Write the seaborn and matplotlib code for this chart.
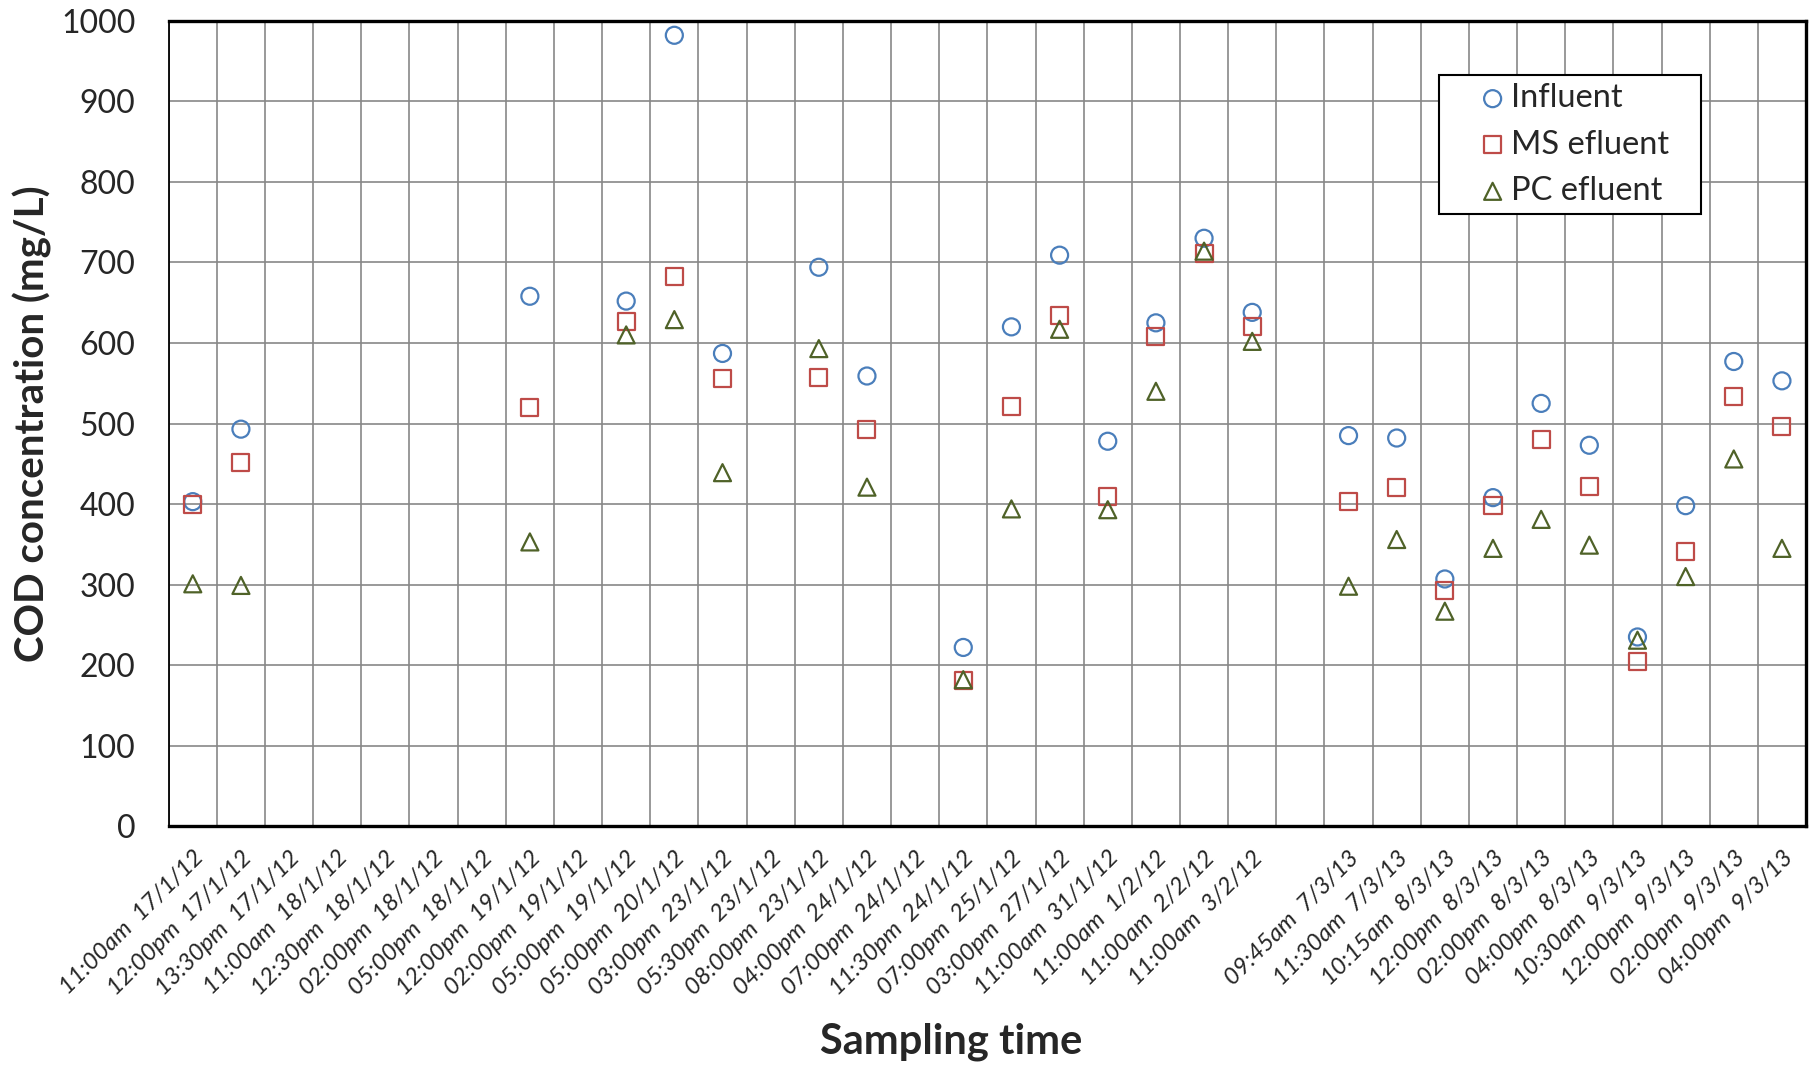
import numpy as np
import pandas as pd
import matplotlib
matplotlib.use("Agg")
import matplotlib.pyplot as plt
import seaborn as sns

nan = np.nan
labels = ["11:00am  17/1/12", "12:00pm  17/1/12", "13:30pm  17/1/12", "11:00am  18/1/12",
          "12:30pm  18/1/12", "02:00pm  18/1/12", "05:00pm  18/1/12", "12:00pm  19/1/12",
          "02:00pm  19/1/12", "05:00pm  19/1/12", "05:00pm  20/1/12", "03:00pm  23/1/12",
          "05:30pm  23/1/12", "08:00pm  23/1/12", "04:00pm  24/1/12", "07:00pm  24/1/12",
          "11:30pm  24/1/12", "07:00pm  25/1/12", "03:00pm  27/1/12", "11:00am  31/1/12",
          "11:00am  1/2/12", "11:00am  2/2/12", "11:00am  3/2/12", "",
          "09:45am  7/3/13", "11:30am  7/3/13", "10:15am  8/3/13", "12:00pm  8/3/13",
          "02:00pm  8/3/13", "04:00pm  8/3/13", "10:30am  9/3/13", "12:00pm  9/3/13",
          "02:00pm  9/3/13", "04:00pm  9/3/13"]

influent = [403, 493, nan, nan, nan, nan, nan, 658, nan, 652, 982, 587, nan, 694, 559, nan,
            222, 620, 709, 478, 625, 730, 638, nan, 485, 482, 307, 408, 525, 473, 235, 398, 577, 553]
ms_efluent = [400, 451, nan, nan, nan, nan, nan, 520, nan, 627, 683, 556, nan, 557, 493, nan,
              181, 521, 634, 409, 608, 711, 620, nan, 403, 420, 293, 398, 480, 422, 204, 341, 534, 496]
pc_efluent = [301, 299, nan, nan, nan, nan, nan, 353, nan, 610, 629, 439, nan, 593, 421, nan,
              182, 394, 617, 393, 540, 714, 602, nan, 298, 356, 267, 345, 381, 349, 231, 310, 456, 345]

series_names = ["Influent", "MS efluent", "PC efluent"]
series_vals = [influent, ms_efluent, pc_efluent]
colors = ["#4A7EBB", "#BE4B48", "#4F6228"]
markers = ["o", "s", "^"]

sns.set_style("white")
plt.rcParams["font.family"] = ["Lato", "DejaVu Sans"]

fig = plt.figure(figsize=(18.12, 10.66), dpi=100)
ax = fig.add_axes([0.0931, 0.2249, 0.9036, 0.7556])

pos = np.arange(len(labels))
for name, vals, c, m in zip(series_names, series_vals, colors, markers):
    df = pd.DataFrame({"pos": pos, "value": vals}).dropna()
    sns.scatterplot(data=df, x="pos", y="value", marker=m, s=150, ax=ax, label=name, zorder=3)
    coll = ax.collections[-1]
    coll.set_facecolor("none")
    coll.set_edgecolor(c)
    coll.set_linewidth(1.6)

ax.set_xlim(-0.5, len(labels) - 0.5)
ax.set_ylim(0, 1000)
ax.set_yticks(np.arange(0, 1001, 100))
ax.set_xticks(pos)
ax.set_xticklabels(labels, rotation=45, ha="right", va="top", rotation_mode="anchor",
                   fontsize=17.3, fontstyle="italic")
ax.set_xticks(np.arange(-0.5, len(labels), 1.0), minor=True)
ax.tick_params(axis="x", which="major", length=0, pad=15)
ax.tick_params(axis="x", which="minor", length=6, width=1.1, color="#868686", direction="out")
ax.tick_params(axis="y", which="major", length=8, width=1.1, color="#868686", direction="out",
               labelsize=23, pad=16)
ax.grid(False)
ax.grid(True, axis="y", which="major", color="#878787", linewidth=1.2, zorder=0)
ax.grid(True, axis="x", which="minor", color="#878787", linewidth=1.2, zorder=0)
ax.set_axisbelow(True)

for side in ["top", "right", "bottom"]:
    ax.spines[side].set_color("black")
    ax.spines[side].set_linewidth(2.4)
ax.spines["left"].set_color("black")
ax.spines["left"].set_linewidth(1.3)

ax.set_ylabel("COD concentration (mg/L)", fontsize=29, fontweight="bold")
ax.yaxis.set_label_coords(-0.0713, 0.5)
ax.set_xlabel("Sampling time", fontsize=30, fontweight="bold")
ax.xaxis.set_label_coords(0.478, -0.268)
ax.xaxis.label.set_va("center")

handles, labs = ax.get_legend_handles_labels()
leg = ax.legend(handles, labs, loc="upper left", bbox_to_anchor=(0.7757, 0.7619, 0.1602, 0.1707),
                mode="expand", fontsize=23.5, frameon=True, fancybox=False, framealpha=1,
                edgecolor="black", borderpad=0.25, labelspacing=0.5, handletextpad=-0.83,
                borderaxespad=0, handlelength=2.8)
leg.get_frame().set_linewidth(1.5)
for h, c in zip(leg.legend_handles, colors):
    h.set_facecolor("none")
    h.set_edgecolor(c)
    h.set_linewidth(1.6)

fig.savefig("out.png", dpi=100)
